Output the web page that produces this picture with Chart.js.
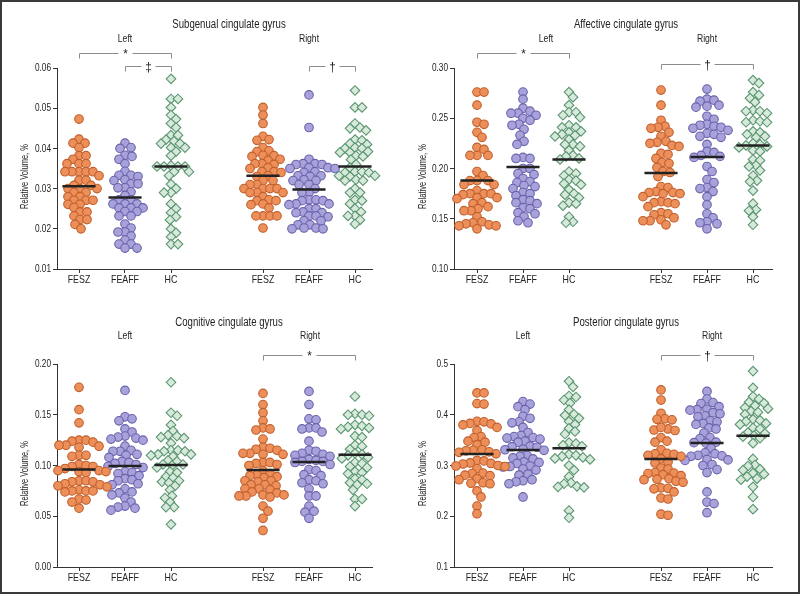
<!DOCTYPE html>
<html>
<head>
<meta charset="utf-8">
<script src="https://cdn.jsdelivr.net/npm/chart.js@4.4.1/dist/chart.umd.min.js"></script>
<style>
  body { margin: 0; background: #fff; width: 800px; height: 601px; position: relative; overflow: hidden; }
  .panel { position: absolute; width: 400px; height: 300px; }
  #frame { position: absolute; left: 0; top: 0; width: 796px; height: 590px; border: 2px solid #3a3a3a; }
</style>
</head>
<body>
<div id="frame"></div>
<div class="panel" style="left:0;top:0"><canvas id="sub" width="400" height="300"></canvas></div>
<div class="panel" style="left:400px;top:0"><canvas id="aff" width="400" height="300"></canvas></div>
<div class="panel" style="left:0;top:300px"><canvas id="cog" width="400" height="300"></canvas></div>
<div class="panel" style="left:400px;top:300px"><canvas id="pos" width="400" height="300"></canvas></div>
<script>
const groups = ["FESZ", "FEAFF", "HC"];
const catPos = [0, 1, 2, 4, 5, 6];

// Subgenual cingulate gyrus
const subLeftFESZ = [0.0473, 0.0423, 0.0413, 0.0413, 0.0402, 0.0382, 0.0382, 0.0373, 0.0362, 0.0362, 0.0362, 0.0342, 0.0342, 0.0342, 0.0342, 0.0342, 0.0332, 0.0321, 0.0321, 0.0308, 0.0308, 0.0300, 0.0300, 0.0300, 0.0290, 0.0290, 0.0280, 0.0280, 0.0271, 0.0271, 0.0271, 0.0261, 0.0261, 0.0253, 0.0242, 0.0242, 0.0232, 0.0223, 0.0223, 0.0211, 0.0200];
const subLeftFEAFF = [0.0413, 0.0402, 0.0400, 0.0383, 0.0380, 0.0373, 0.0362, 0.0343, 0.0333, 0.0333, 0.0330, 0.0322, 0.0320, 0.0312, 0.0312, 0.0302, 0.0302, 0.0292, 0.0283, 0.0272, 0.0272, 0.0262, 0.0262, 0.0262, 0.0252, 0.0252, 0.0252, 0.0243, 0.0243, 0.0232, 0.0232, 0.0212, 0.0202, 0.0192, 0.0192, 0.0182, 0.0172, 0.0162, 0.0162, 0.0152, 0.0152];
const subLeftHC = [0.0573, 0.0523, 0.0523, 0.0502, 0.0483, 0.0473, 0.0462, 0.0452, 0.0433, 0.0433, 0.0422, 0.0418, 0.0412, 0.0412, 0.0402, 0.0402, 0.0392, 0.0382, 0.0357, 0.0355, 0.0355, 0.0355, 0.0355, 0.0342, 0.0342, 0.0332, 0.0311, 0.0300, 0.0290, 0.0290, 0.0262, 0.0250, 0.0240, 0.0230, 0.0222, 0.0200, 0.0190, 0.0180, 0.0162, 0.0162];
const subRightFESZ = [0.0502, 0.0483, 0.0462, 0.0430, 0.0422, 0.0420, 0.0402, 0.0394, 0.0392, 0.0383, 0.0382, 0.0380, 0.0373, 0.0370, 0.0362, 0.0360, 0.0362, 0.0352, 0.0350, 0.0342, 0.0342, 0.0340, 0.0332, 0.0330, 0.0320, 0.0320, 0.0310, 0.0310, 0.0300, 0.0300, 0.0300, 0.0300, 0.0290, 0.0290, 0.0290, 0.0280, 0.0272, 0.0270, 0.0270, 0.0262, 0.0260, 0.0252, 0.0232, 0.0232, 0.0232, 0.0232, 0.0202];
const subRightFEAFF = [0.0533, 0.0452, 0.0373, 0.0362, 0.0362, 0.0360, 0.0360, 0.0352, 0.0352, 0.0350, 0.0350, 0.0342, 0.0340, 0.0332, 0.0332, 0.0330, 0.0322, 0.0320, 0.0320, 0.0310, 0.0310, 0.0300, 0.0290, 0.0290, 0.0272, 0.0272, 0.0270, 0.0270, 0.0262, 0.0262, 0.0260, 0.0250, 0.0250, 0.0242, 0.0240, 0.0240, 0.0232, 0.0232, 0.0230, 0.0220, 0.0220, 0.0210, 0.0210, 0.0202, 0.0202, 0.0200, 0.0200];
const subRightHC = [0.0544, 0.0502, 0.0502, 0.0462, 0.0452, 0.0450, 0.0445, 0.0422, 0.0420, 0.0412, 0.0410, 0.0402, 0.0400, 0.0400, 0.0392, 0.0390, 0.0390, 0.0382, 0.0380, 0.0372, 0.0360, 0.0352, 0.0342, 0.0342, 0.0340, 0.0340, 0.0332, 0.0332, 0.0330, 0.0322, 0.0320, 0.0320, 0.0300, 0.0290, 0.0290, 0.0272, 0.0270, 0.0262, 0.0250, 0.0242, 0.0232, 0.0232, 0.0222, 0.0212];
const subMedians = [0.0306, 0.0278, 0.0355, 0.0332, 0.0298, 0.0355];
const subBrackets = [[0, 2, "*"], [1, 2, "\u2021"], [4, 5, "\u2020"]];

// Affective cingulate gyrus
const affLeftFESZ = [0.276, 0.276, 0.263, 0.246, 0.244, 0.236, 0.231, 0.221, 0.219, 0.213, 0.213, 0.213, 0.197, 0.193, 0.188, 0.188, 0.188, 0.184, 0.184, 0.178, 0.175, 0.175, 0.175, 0.174, 0.171, 0.171, 0.170, 0.166, 0.165, 0.162, 0.160, 0.158, 0.158, 0.152, 0.147, 0.146, 0.145, 0.144, 0.143, 0.143, 0.140];
const affLeftFEAFF = [0.276, 0.269, 0.260, 0.257, 0.255, 0.255, 0.253, 0.250, 0.248, 0.244, 0.243, 0.239, 0.233, 0.227, 0.224, 0.211, 0.210, 0.210, 0.200, 0.200, 0.195, 0.194, 0.190, 0.187, 0.186, 0.183, 0.182, 0.180, 0.176, 0.175, 0.173, 0.169, 0.168, 0.166, 0.165, 0.161, 0.160, 0.156, 0.155, 0.152, 0.148, 0.146];
const affLeftHC = [0.276, 0.271, 0.263, 0.256, 0.256, 0.253, 0.251, 0.243, 0.241, 0.241, 0.237, 0.236, 0.234, 0.233, 0.232, 0.229, 0.224, 0.224, 0.222, 0.218, 0.213, 0.212, 0.210, 0.209, 0.197, 0.195, 0.193, 0.189, 0.188, 0.185, 0.184, 0.179, 0.175, 0.174, 0.171, 0.166, 0.165, 0.163, 0.152, 0.147, 0.146];
const affRightFESZ = [0.278, 0.263, 0.248, 0.242, 0.241, 0.240, 0.236, 0.232, 0.227, 0.226, 0.225, 0.223, 0.222, 0.215, 0.214, 0.210, 0.206, 0.205, 0.201, 0.197, 0.196, 0.192, 0.182, 0.181, 0.177, 0.176, 0.176, 0.175, 0.175, 0.172, 0.167, 0.166, 0.166, 0.165, 0.162, 0.156, 0.155, 0.154, 0.151, 0.149, 0.148, 0.148, 0.144];
const affRightFEAFF = [0.279, 0.269, 0.268, 0.267, 0.263, 0.262, 0.261, 0.252, 0.249, 0.244, 0.243, 0.242, 0.241, 0.240, 0.238, 0.235, 0.234, 0.232, 0.231, 0.224, 0.217, 0.216, 0.213, 0.212, 0.211, 0.202, 0.197, 0.189, 0.186, 0.181, 0.180, 0.177, 0.172, 0.164, 0.155, 0.151, 0.147, 0.146, 0.145, 0.140];
const affRightHC = [0.288, 0.285, 0.276, 0.273, 0.270, 0.266, 0.258, 0.257, 0.257, 0.255, 0.248, 0.247, 0.246, 0.246, 0.237, 0.236, 0.234, 0.232, 0.231, 0.225, 0.224, 0.223, 0.222, 0.221, 0.218, 0.217, 0.209, 0.208, 0.203, 0.202, 0.198, 0.193, 0.188, 0.187, 0.178, 0.165, 0.159, 0.158, 0.152, 0.144];
const affMedians = [0.188, 0.2015, 0.209, 0.1955, 0.2115, 0.223];
const affBrackets = [[0, 2, "*"], [3, 5, "\u2020"]];

// Cognitive cingulate gyrus
const cogLeftFESZ = [0.177, 0.155, 0.142, 0.125, 0.125, 0.124, 0.123, 0.120, 0.120, 0.119, 0.118, 0.110, 0.110, 0.109, 0.101, 0.100, 0.099, 0.099, 0.097, 0.095, 0.095, 0.094, 0.094, 0.093, 0.085, 0.085, 0.084, 0.084, 0.082, 0.081, 0.080, 0.079, 0.076, 0.075, 0.075, 0.075, 0.074, 0.067, 0.066, 0.064, 0.058];
const cogLeftFEAFF = [0.174, 0.148, 0.146, 0.144, 0.136, 0.133, 0.129, 0.128, 0.127, 0.126, 0.125, 0.119, 0.115, 0.114, 0.114, 0.111, 0.110, 0.108, 0.104, 0.103, 0.102, 0.101, 0.099, 0.098, 0.094, 0.093, 0.092, 0.090, 0.087, 0.086, 0.085, 0.082, 0.081, 0.077, 0.074, 0.073, 0.071, 0.068, 0.064, 0.060, 0.059, 0.058, 0.056];
const cogLeftHC = [0.182, 0.152, 0.149, 0.140, 0.134, 0.130, 0.129, 0.128, 0.127, 0.122, 0.115, 0.115, 0.114, 0.114, 0.111, 0.111, 0.110, 0.109, 0.105, 0.104, 0.101, 0.101, 0.100, 0.098, 0.094, 0.093, 0.089, 0.088, 0.085, 0.084, 0.083, 0.080, 0.076, 0.070, 0.068, 0.064, 0.059, 0.059, 0.042];
const cogRightFESZ = [0.171, 0.160, 0.152, 0.144, 0.137, 0.136, 0.135, 0.126, 0.118, 0.117, 0.116, 0.115, 0.112, 0.112, 0.111, 0.111, 0.103, 0.103, 0.102, 0.101, 0.100, 0.095, 0.092, 0.091, 0.090, 0.089, 0.088, 0.085, 0.085, 0.084, 0.081, 0.081, 0.080, 0.077, 0.077, 0.076, 0.074, 0.073, 0.071, 0.071, 0.070, 0.070, 0.069, 0.060, 0.055, 0.048, 0.036];
const cogRightFEAFF = [0.173, 0.160, 0.146, 0.145, 0.137, 0.137, 0.136, 0.133, 0.124, 0.115, 0.114, 0.112, 0.111, 0.110, 0.109, 0.106, 0.105, 0.104, 0.104, 0.103, 0.101, 0.096, 0.095, 0.091, 0.090, 0.086, 0.085, 0.083, 0.082, 0.077, 0.070, 0.070, 0.060, 0.055, 0.054, 0.048];
const cogRightHC = [0.168, 0.151, 0.150, 0.150, 0.149, 0.140, 0.139, 0.138, 0.137, 0.136, 0.129, 0.128, 0.120, 0.119, 0.116, 0.112, 0.111, 0.110, 0.108, 0.107, 0.103, 0.102, 0.099, 0.098, 0.094, 0.093, 0.092, 0.087, 0.086, 0.083, 0.082, 0.081, 0.076, 0.067, 0.067, 0.060];
const cogMedians = [0.096, 0.0995, 0.1005, 0.0955, 0.1035, 0.1105];
const cogBrackets = [[3, 5, "*"]];

// Posterior cingulate gyrus
const posLeftFESZ = [0.443, 0.443, 0.422, 0.421, 0.387, 0.386, 0.383, 0.382, 0.380, 0.375, 0.369, 0.357, 0.355, 0.348, 0.346, 0.341, 0.331, 0.330, 0.329, 0.327, 0.326, 0.323, 0.310, 0.309, 0.305, 0.304, 0.303, 0.300, 0.299, 0.298, 0.294, 0.285, 0.284, 0.281, 0.280, 0.274, 0.272, 0.266, 0.265, 0.264, 0.250, 0.238, 0.220, 0.205];
const posLeftFEAFF = [0.426, 0.421, 0.416, 0.410, 0.397, 0.393, 0.386, 0.384, 0.375, 0.365, 0.359, 0.357, 0.355, 0.354, 0.352, 0.348, 0.346, 0.338, 0.337, 0.336, 0.332, 0.331, 0.330, 0.320, 0.318, 0.315, 0.313, 0.307, 0.306, 0.304, 0.299, 0.298, 0.297, 0.293, 0.291, 0.283, 0.281, 0.272, 0.270, 0.268, 0.264, 0.238];
const posLeftHC = [0.466, 0.455, 0.437, 0.435, 0.429, 0.423, 0.410, 0.401, 0.399, 0.393, 0.387, 0.381, 0.373, 0.367, 0.362, 0.345, 0.343, 0.340, 0.338, 0.322, 0.320, 0.318, 0.316, 0.314, 0.312, 0.300, 0.291, 0.278, 0.266, 0.264, 0.259, 0.258, 0.257, 0.211, 0.197];
const posRightFESZ = [0.449, 0.429, 0.403, 0.392, 0.391, 0.390, 0.372, 0.370, 0.369, 0.375, 0.355, 0.348, 0.346, 0.331, 0.324, 0.323, 0.322, 0.320, 0.318, 0.313, 0.307, 0.305, 0.295, 0.293, 0.286, 0.285, 0.284, 0.282, 0.280, 0.274, 0.273, 0.272, 0.269, 0.267, 0.256, 0.255, 0.254, 0.248, 0.236, 0.234, 0.204, 0.202];
const posRightFEAFF = [0.446, 0.431, 0.424, 0.422, 0.416, 0.411, 0.410, 0.409, 0.404, 0.402, 0.398, 0.396, 0.388, 0.386, 0.383, 0.381, 0.374, 0.372, 0.364, 0.355, 0.353, 0.346, 0.345, 0.344, 0.334, 0.325, 0.323, 0.320, 0.319, 0.318, 0.312, 0.311, 0.310, 0.302, 0.300, 0.292, 0.286, 0.248, 0.228, 0.225, 0.207];
const posRightHC = [0.486, 0.453, 0.436, 0.431, 0.425, 0.423, 0.418, 0.414, 0.412, 0.407, 0.405, 0.401, 0.391, 0.389, 0.387, 0.383, 0.381, 0.374, 0.372, 0.365, 0.363, 0.359, 0.357, 0.354, 0.344, 0.313, 0.301, 0.299, 0.293, 0.291, 0.285, 0.283, 0.278, 0.274, 0.272, 0.258, 0.238, 0.214];
const posMedians = [0.3225, 0.3305, 0.334, 0.313, 0.3445, 0.3585];
const posBrackets = [[3, 5, "\u2020"]];

const FONT = "'Liberation Sans', Arial, sans-serif";
Chart.defaults.font.family = FONT;
Chart.defaults.color = "#333";

const styles = [
  { shape: "circle", bg: "#ec8f5a", border: "#c25f2a", r: 4.3 },
  { shape: "circle", bg: "#a7a2da", border: "#6a62ad", r: 4.3 },
  { shape: "rectRot", bg: "#d7e9db", border: "#5a9670", r: 4.8 },
];

const panels = [
  { id: "sub", title: "Subgenual cingulate gyrus", yTitle: "Relative Volume, %",
    groups: [subLeftFESZ, subLeftFEAFF, subLeftHC, subRightFESZ, subRightFEAFF, subRightHC],
    medians: subMedians, brackets: subBrackets, yMin: 0.01, yMax: 0.06, step: 0.01, dec: 2,
    box: { axisX: 57, top: 68, bottom: 269, right: 372, cat0: 79, titleX: 229, titleY: 25, sideY: 39, leftX: 125, rightX: 309, yTitleX: 25, bracketY: [53, 66, 66] } },
  { id: "aff", title: "Affective cingulate gyrus", yTitle: "Relative Volume, %",
    groups: [affLeftFESZ, affLeftFEAFF, affLeftHC, affRightFESZ, affRightFEAFF, affRightHC],
    medians: affMedians, brackets: affBrackets, yMin: 0.10, yMax: 0.30, step: 0.05, dec: 2,
    box: { axisX: 54, top: 68, bottom: 269, right: 372, cat0: 77, titleX: 226, titleY: 25, sideY: 39, leftX: 146, rightX: 307, yTitleX: 23, bracketY: [53, 64] } },
  { id: "cog", title: "Cognitive cingulate gyrus", yTitle: "Relative Volume, %",
    groups: [cogLeftFESZ, cogLeftFEAFF, cogLeftHC, cogRightFESZ, cogRightFEAFF, cogRightHC],
    medians: cogMedians, brackets: cogBrackets, yMin: 0, yMax: 0.20, step: 0.05, dec: 2,
    box: { axisX: 57, top: 64, bottom: 267, right: 372, cat0: 79, titleX: 229, titleY: 23, sideY: 36, leftX: 125, rightX: 310, yTitleX: 25, bracketY: [55] } },
  { id: "pos", title: "Posterior cingulate gyrus", yTitle: "Relative Volume, %",
    groups: [posLeftFESZ, posLeftFEAFF, posLeftHC, posRightFESZ, posRightFEAFF, posRightHC],
    medians: posMedians, brackets: posBrackets, yMin: 0.1, yMax: 0.5, step: 0.1, dec: 1,
    box: { axisX: 54, top: 64, bottom: 267, right: 372, cat0: 77, titleX: 226, titleY: 23, sideY: 36, leftX: 123, rightX: 312, yTitleX: 23, bracketY: [55] } },
];

// narrow text: Liberation Sans squeezed sideways, like a condensed face
function txt(ctx, s, x, y, size, sx, align) {
  ctx.save();
  ctx.translate(x, y);
  ctx.scale(sx, 1);
  ctx.font = size + "px " + FONT;
  ctx.textAlign = align || "center";
  ctx.fillText(s, 0, 0);
  ctx.restore();
}

// titles, tick labels, y title and significance brackets
function annotPlugin(p) {
  return {
    id: "annot",
    afterDraw(chart) {
      const ctx = chart.ctx, b = p.box, xs = chart.scales.x, ys = chart.scales.y, a = chart.chartArea;
      ctx.save();
      ctx.fillStyle = "#222";
      ctx.textBaseline = "middle";
      txt(ctx, p.title, b.titleX, b.titleY, 12.5, 0.77);
      txt(ctx, "Left", b.leftX, b.sideY, 11.5, 0.75);
      txt(ctx, "Right", b.rightX, b.sideY, 11.5, 0.75);

      ys.ticks.forEach(t => {
        txt(ctx, t.value.toFixed(p.dec), a.left - 6, ys.getPixelForValue(t.value), 11.5, 0.72, "right");
      });
      catPos.forEach((c, i) => {
        txt(ctx, groups[i % 3], xs.getPixelForValue(c), a.bottom + 11, 11.5, 0.77);
      });

      ctx.save();
      ctx.translate(b.yTitleX, (a.top + a.bottom) / 2 + 8);
      ctx.rotate(-Math.PI / 2);
      txt(ctx, p.yTitle, 0, 0, 11, 0.68);
      ctx.restore();

      p.brackets.forEach((br, k) => {
        const x1 = Math.round(xs.getPixelForValue(catPos[br[0]])) + 0.5;
        const x2 = Math.round(xs.getPixelForValue(catPos[br[1]])) + 0.5;
        const y = b.bracketY[k] + 0.5, mid = (x1 + x2) / 2, gap = 7;
        ctx.strokeStyle = "#8c8c8c";
        ctx.lineWidth = 1;
        ctx.beginPath();
        ctx.moveTo(x1, y + 5); ctx.lineTo(x1, y); ctx.lineTo(mid - gap, y);
        ctx.moveTo(mid + gap, y); ctx.lineTo(x2, y); ctx.lineTo(x2, y + 5);
        ctx.stroke();
        txt(ctx, br[2], mid, y + 1, 13, 0.9);
      });
      ctx.restore();
    }
  };
}

// simple beeswarm: spread points sideways so they don't pile up
function swarm(chart, vals, c, d) {
  const xs = chart.scales.x, ys = chart.scales.y;
  const unit = xs.getPixelForValue(1) - xs.getPixelForValue(0);
  const py = vals.map(v => ys.getPixelForValue(v));
  const order = vals.map((v, i) => i).sort((i, j) => py[i] - py[j]);
  const placed = [], off = [];
  order.forEach(i => {
    for (let k = 0; k < 300; k++) {
      const dx = (k % 2 ? 1 : -1) * Math.ceil(k / 2);
      if (placed.every(q => (q.x - dx) ** 2 + (q.y - py[i]) ** 2 >= d * d)) {
        placed.push({ x: dx, y: py[i] });
        off[i] = dx;
        break;
      }
    }
  });
  return vals.map((v, i) => ({ x: c + off[i] / unit, y: v }));
}

panels.forEach(p => {
  const b = p.box;
  const datasets = [];
  p.medians.forEach((m, i) => {
    datasets.push({
      type: "line",
      data: [{ x: catPos[i] - 0.36, y: m }, { x: catPos[i] + 0.36, y: m }],
      borderColor: "#222", borderWidth: 2.5, pointRadius: 0, order: 0
    });
  });
  p.groups.forEach((vals, i) => {
    const s = styles[i % 3];
    datasets.push({
      type: "scatter",
      data: vals.map(v => ({ x: catPos[i], y: v })),
      pointStyle: s.shape, pointRadius: s.r, pointHoverRadius: s.r,
      backgroundColor: s.bg, borderColor: s.border, borderWidth: 1.1,
      order: 1, clip: false
    });
  });

  const chart = new Chart(document.getElementById(p.id), {
    type: "scatter",
    data: { datasets },
    options: {
      responsive: false,
      animation: false,
      devicePixelRatio: 1,
      layout: { padding: { left: 0, top: b.top, right: 400 - b.right, bottom: 300 - b.bottom - 22 } },
      plugins: { legend: { display: false }, tooltip: { enabled: false } },
      scales: {
        x: {
          type: "linear",
          bounds: "data",
          min: (b.axisX - b.cat0) / 46,
          max: (b.right - b.cat0) / 46,
          afterFit: s => { s.height = 22; },
          afterBuildTicks: s => { s.ticks = catPos.map(v => ({ value: v })); },
          ticks: { display: false },
          grid: { drawOnChartArea: false, tickLength: 4, color: "#333" },
          border: { color: "#333", width: 1 }
        },
        y: {
          min: p.yMin,
          max: p.yMax,
          afterFit: s => { s.width = b.axisX; },
          ticks: { stepSize: p.step, display: false },
          grid: { drawOnChartArea: false, tickLength: 4, color: "#333" },
          border: { color: "#333", width: 1 }
        }
      }
    },
    plugins: [annotPlugin(p)]
  });

  p.groups.forEach((vals, i) => {
    const d = i % 3 === 2 ? 6.4 : 6.8;
    chart.data.datasets[p.medians.length + i].data = swarm(chart, vals, catPos[i], d);
  });
  chart.update("none");
});
</script>
</body>
</html>
